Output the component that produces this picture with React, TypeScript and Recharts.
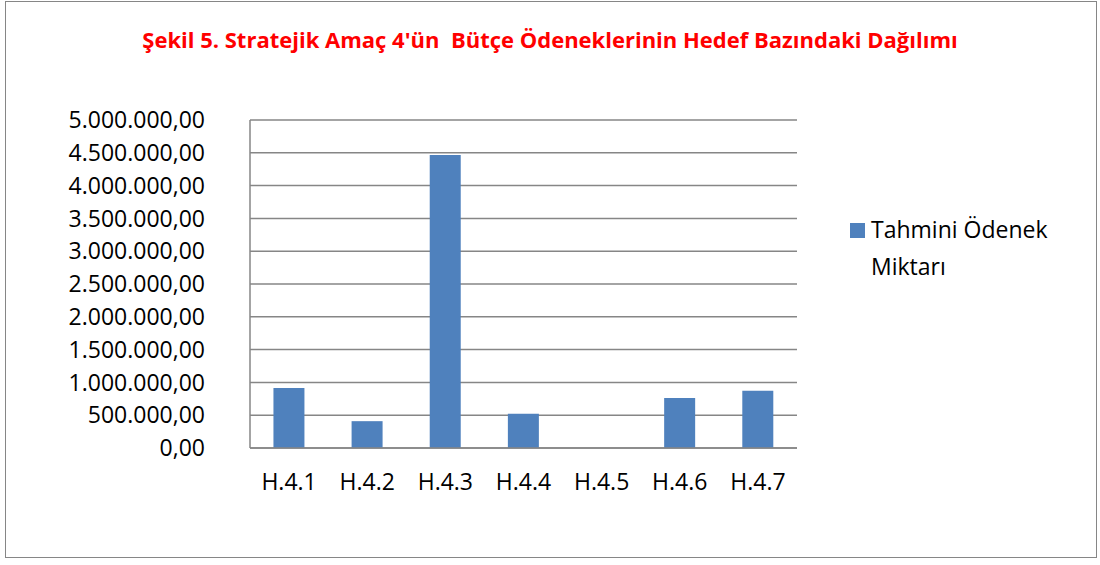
import { BarChart, Bar, XAxis, YAxis, CartesianGrid } from 'recharts';

const categories = ['H.4.1', 'H.4.2', 'H.4.3', 'H.4.4', 'H.4.5', 'H.4.6', 'H.4.7'];
const odenek = [914000, 409000, 4466000, 521000, 0, 761000, 873000];
const yTicks = [0, 500000, 1000000, 1500000, 2000000, 2500000, 3000000, 3500000, 4000000, 4500000, 5000000];

const data = categories.map((name, i) => ({ name, value: odenek[i] }));

const FONT = '"Open Sans", "Liberation Sans", sans-serif';

function trFormat(v: number) {
	const intPart = Math.round(v).toString().replace(/\B(?=(\d{3})+(?!\d))/g, '.');
	return intPart + ',00';
}

export default function App() {
	return (
		<div style={{ position: 'absolute', left: 0, top: 0, width: 1100, height: 565, background: '#fff' }}>
			<div style={{ position: 'absolute', left: 5, top: 1, width: 1090, height: 555, border: '1px solid #868686' }} />
			<div
				style={{
					position: 'absolute',
					top: 24,
					left: 0,
					width: 1100,
					textAlign: 'center',
					fontFamily: FONT,
					fontWeight: 700,
					fontSize: 22,
					color: '#FF0000',
				}}
			>
				Şekil 5. Stratejik Amaç 4'ün&nbsp; Bütçe Ödeneklerinin Hedef Bazındaki Dağılımı
			</div>
			{/* legend */}
			<div
				style={{
					position: 'absolute',
					left: 850,
					top: 211,
					display: 'flex',
					alignItems: 'flex-start',
					fontFamily: FONT,
					fontSize: 23,
					color: '#000',
					width: 220,
					lineHeight: '37px',
				}}
			>
				<div style={{ width: 15, height: 15, background: '#4F81BD', marginTop: 12, marginRight: 6, flexShrink: 0 }} />
				<div>Tahmini Ödenek Miktarı</div>
			</div>
			<div style={{ position: 'absolute', left: 0, top: 0 }}>
				<BarChart width={1100} height={565} data={data} margin={{ top: 120, right: 303, bottom: 57, left: 60 }} barCategoryGap="30%">
					<CartesianGrid vertical={false} stroke="#868686" strokeWidth={1.5} />
					<XAxis
						dataKey="name"
						axisLine={{ stroke: '#868686', strokeWidth: 1.5 }}
						tickLine={false}
						height={60}
						tick={{ fill: '#000', fontSize: 23, fontFamily: FONT }}
						tickMargin={20}
					/>
					<YAxis
						width={190}
						domain={[0, 5000000]}
						ticks={yTicks}
						interval={0}
						tickFormatter={trFormat}
						axisLine={{ stroke: '#868686', strokeWidth: 1.5 }}
						tickLine={false}
						tickMargin={39}
						tick={{ fill: '#000', fontSize: 23, fontFamily: FONT }}
					/>
					<Bar dataKey="value" name="Tahmini Ödenek Miktarı" fill="#4F81BD" isAnimationActive={false} />
				</BarChart>
			</div>
		</div>
	);
}
